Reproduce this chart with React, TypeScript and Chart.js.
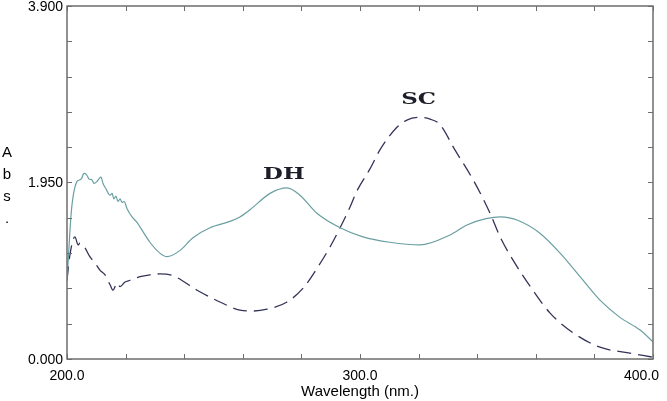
import React, { useEffect, useRef } from "react";
import { Chart, registerables } from "chart.js";

Chart.register(...registerables);

// DH spectrum (solid)
const dhWavelengths = [
  200.0, 200.7, 201.4, 202.0, 202.7, 203.4, 204.4, 205.1, 205.5, 206.1, 206.8, 207.5,
  208.5, 209.2, 210.2, 210.9, 211.6, 212.3, 213.3, 214.7, 215.4, 216.0, 216.7, 217.4,
  218.1, 218.8, 219.5, 220.5, 222.2, 223.9, 224.9, 228.3, 231.7, 234.1, 238.6, 243.0,
  248.8, 255.6, 259.0, 262.5, 269.3, 275.1, 279.5, 285.3, 293.2, 301.0, 310.2, 320.5,
  330.7, 336.5, 343.0, 348.0, 354.0, 361.4, 368.3, 375.1, 381.9, 388.7, 395.6, 400.0,
];
const dhAbs = [
  0.86, 1.25, 1.6, 1.78, 1.9, 1.96, 1.98, 2.0, 2.04, 2.05, 2.03, 1.99,
  1.98, 1.94, 1.96, 1.99, 2.01, 1.94, 1.88, 1.81, 1.83, 1.77, 1.8, 1.74,
  1.77, 1.73, 1.74, 1.66, 1.57, 1.51, 1.46, 1.29, 1.17, 1.13, 1.2, 1.34,
  1.45, 1.52, 1.57, 1.65, 1.83, 1.89, 1.81, 1.61, 1.45, 1.35, 1.29, 1.26,
  1.37, 1.48, 1.55, 1.57, 1.53, 1.39, 1.17, 0.91, 0.65, 0.46, 0.32, 0.19,
];

// SC spectrum (dashed)
const scWavelengths = [
  200.0, 201.0, 202.7, 203.8, 204.4, 206.1, 207.8, 209.6, 211.3, 213.0, 214.7, 215.7,
  217.1, 218.1, 219.8, 221.5, 224.9, 228.3, 231.7, 236.2, 244.4, 252.2, 259.0, 263.5,
  268.3, 275.1, 280.5, 285.3, 289.8, 293.2, 296.6, 299.0, 303.4, 306.8, 312.6,
  316.0, 320.5, 323.9, 327.3, 332.4, 338.6, 344.4, 347.8, 353.6, 359.0, 364.8, 372.7,
  381.9, 391.1, 400.0,
];
const scAbs = [
  0.87, 1.15, 1.35, 1.26, 1.28, 1.23, 1.13, 1.06, 0.98, 0.93, 0.82, 0.76,
  0.84, 0.8, 0.85, 0.87, 0.91, 0.93, 0.94, 0.92, 0.76, 0.63, 0.54, 0.53,
  0.55, 0.63, 0.78, 1.0, 1.24, 1.45, 1.68, 1.86, 2.1, 2.31, 2.56,
  2.64, 2.67, 2.65, 2.59, 2.31, 1.98, 1.61, 1.35, 1.02, 0.76, 0.51, 0.29,
  0.13, 0.07, 0.02,
];

const xTickLabels = [200, 300, 400];
const yTickLabels = [0, 1.95, 3.9];
const xTitle = "Wavelength (nm.)";
const yTitleLetters = ["A", "b", "s", "."];
const seriesNames = ["DH", "SC"];

const decorations = {
  id: "decorations",
  afterDraw(chart: any) {
    const { ctx, chartArea: a, scales } = chart;
    const x = scales.x;
    const y = scales.y;
    ctx.save();
    // frame
    ctx.strokeStyle = "#6e6e6e";
    ctx.lineWidth = 1.5;
    ctx.strokeRect(a.left, a.top, a.right - a.left, a.bottom - a.top);
    // inward ticks
    ctx.lineWidth = 1;
    ctx.beginPath();
    for (let v = 200; v <= 400.001; v += 20) {
      const px = Math.round(x.getPixelForValue(v)) + 0.5;
      ctx.moveTo(px, a.bottom);
      ctx.lineTo(px, a.bottom - 5);
      ctx.moveTo(px, a.top);
      ctx.lineTo(px, a.top + 5);
    }
    for (let i = 0; i <= 10; i++) {
      const py = Math.round(y.getPixelForValue(i * 0.39)) + 0.5;
      ctx.moveTo(a.left, py);
      ctx.lineTo(a.left + 5, py);
      ctx.moveTo(a.right, py);
      ctx.lineTo(a.right - 5, py);
    }
    ctx.stroke();

    // tick labels
    ctx.fillStyle = "#000";
    ctx.font = '14px "Liberation Sans", Arial, sans-serif';
    ctx.textAlign = "right";
    ctx.textBaseline = "middle";
    for (const v of yTickLabels) {
      ctx.fillText(v.toFixed(3), a.left - 4, y.getPixelForValue(v) + 1);
    }
    for (const v of xTickLabels) {
      const txt = v.toFixed(1);
      const w = ctx.measureText(txt).width;
      let cx = x.getPixelForValue(v);
      if (cx + w / 2 > chart.width - 8) cx = chart.width - 8 - w / 2;
      ctx.textAlign = "center";
      ctx.fillText(txt, cx, a.bottom + 17);
    }
    // axis titles
    ctx.font = '15px "Liberation Sans", Arial, sans-serif';
    ctx.textAlign = "center";
    ctx.fillText(xTitle, x.getPixelForValue(300), a.bottom + 33);
    yTitleLetters.forEach((ch, i) => {
      ctx.fillText(ch, 7, 153 + i * 22);
    });

    // series annotations
    const labels = [
      { t: seriesNames[0], x: 274, y: 2.04 },
      { t: seriesNames[1], x: 320, y: 2.86 },
    ];
    ctx.font = 'bold 17px "DejaVu Serif", serif';
    ctx.fillStyle = "#1e1e2a";
    for (const l of labels) {
      ctx.save();
      ctx.translate(x.getPixelForValue(l.x), y.getPixelForValue(l.y));
      ctx.scale(1.35, 0.95);
      ctx.textAlign = "center";
      ctx.textBaseline = "middle";
      ctx.fillText(l.t, 0, 0);
      ctx.restore();
    }
    ctx.restore();
  },
};

export default function App() {
  const ref = useRef<HTMLCanvasElement | null>(null);
  useEffect(() => {
    if (!ref.current) return;
    const chart = new Chart(ref.current, {
      type: "line",
      data: {
        datasets: [
          {
            label: seriesNames[0],
            data: dhWavelengths.map((w, i) => ({ x: w, y: dhAbs[i] })),
            borderColor: "#6a9fa2",
            borderWidth: 1.2,
            pointRadius: 0,
            cubicInterpolationMode: "monotone",
            fill: false,
          },
          {
            label: seriesNames[1],
            data: scWavelengths.map((w, i) => ({ x: w, y: scAbs[i] })),
            borderColor: "#34345a",
            borderWidth: 1.3,
            borderDash: [14, 7],
            pointRadius: 0,
            cubicInterpolationMode: "monotone",
            fill: false,
          },
        ],
      },
      options: {
        responsive: false,
        animation: false,
        layout: { padding: { left: 67, right: 14, top: 6, bottom: 42 } },
        scales: {
          x: { type: "linear", min: 200, max: 400, display: false },
          y: { type: "linear", min: 0, max: 3.9, display: false },
        },
        plugins: { legend: { display: false }, tooltip: { enabled: false } },
      },
      plugins: [decorations],
    });
    return () => chart.destroy();
  }, []);
  return (
    <div style={{ position: "fixed", left: 0, top: 0, width: 667, height: 401, background: "#fff" }}>
      <canvas ref={ref} width={667} height={401} style={{ display: "block" }} />
    </div>
  );
}
